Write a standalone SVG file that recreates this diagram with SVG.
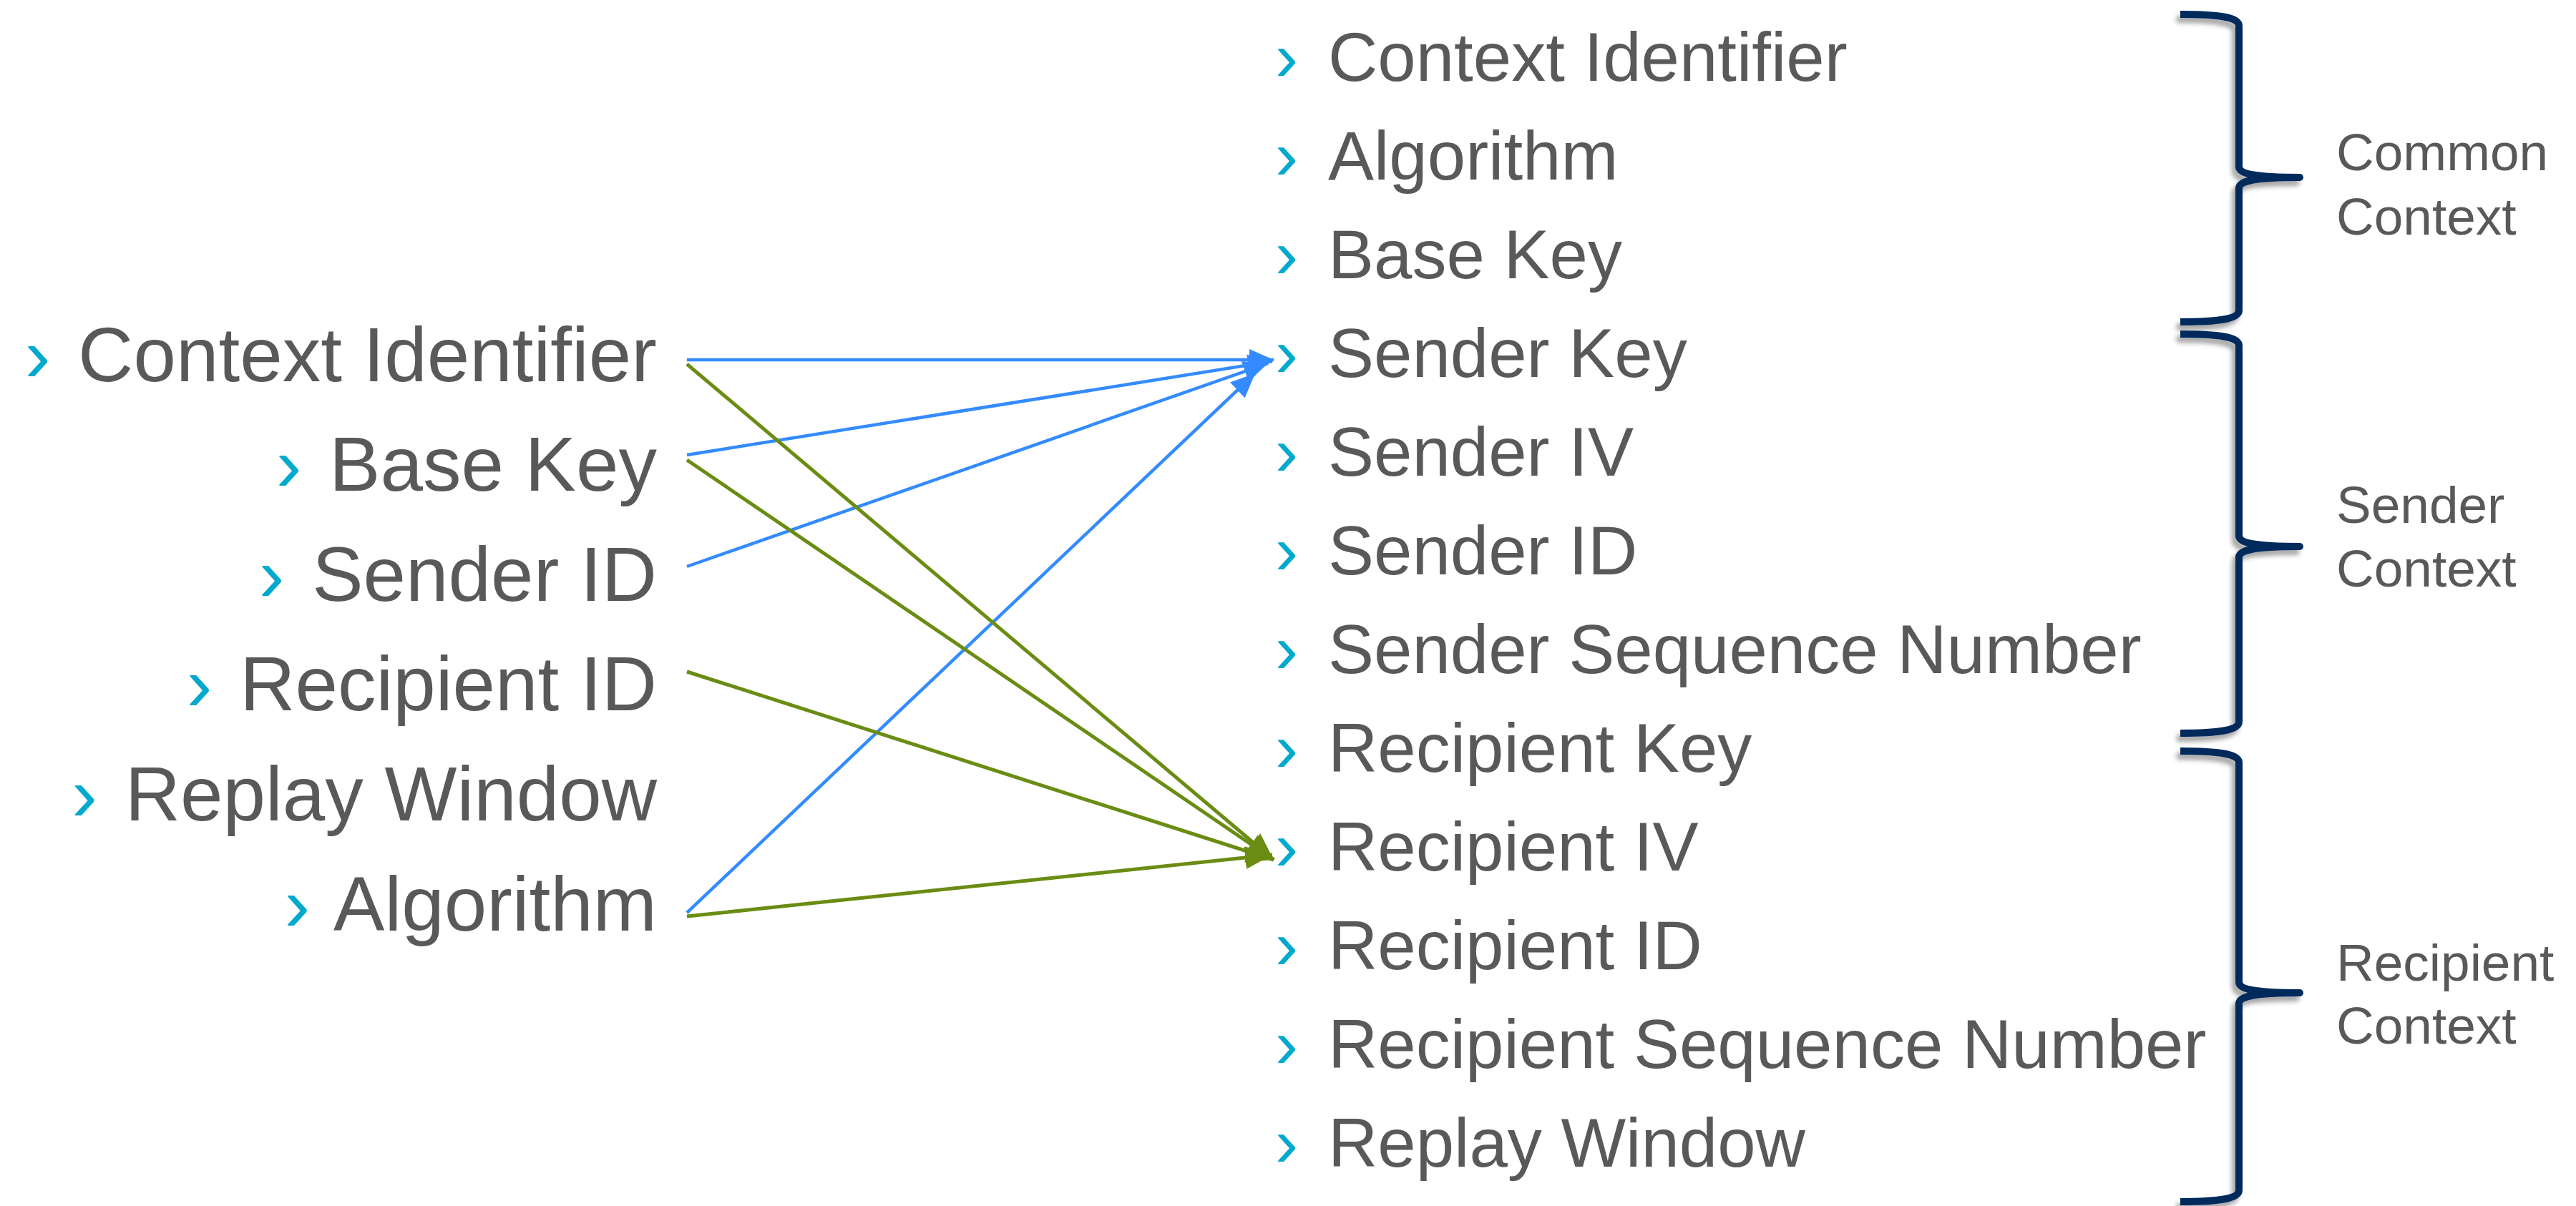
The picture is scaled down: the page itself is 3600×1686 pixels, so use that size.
<svg xmlns="http://www.w3.org/2000/svg" width="3600" height="1686" viewBox="0 0 3600 1686">
<style>
.lbl{font-family:"Liberation Sans",Arial,sans-serif;fill:#58595b}
.l{font-size:107px}
.r{font-size:96px}
.g{font-size:73px}
.chev{fill:#00a9ce}
.blue{stroke:#338bff;stroke-width:4.5;fill:none}
.green{stroke:#6a8c13;stroke-width:5;fill:none}
.brace{stroke:#002a5c;stroke-width:10;fill:none;stroke-linejoin:round;stroke-linecap:butt}
</style>
<defs>
<marker id="ab" markerUnits="userSpaceOnUse" markerWidth="34" markerHeight="30" refX="34" refY="15" orient="auto">
<path d="M0,0 L34,15 L0,30 z" fill="#338bff"/>
</marker>
<marker id="ag" markerUnits="userSpaceOnUse" markerWidth="38" markerHeight="32" refX="38" refY="16" orient="auto">
<path d="M0,0 L38,16 L0,32 z" fill="#6a8c13"/>
</marker>
<filter id="sh" x="-20%" y="-5%" width="140%" height="110%">
<feDropShadow dx="-5" dy="7" stdDeviation="3" flood-color="#000" flood-opacity="0.35"/>
</filter>
</defs>
<rect width="3600" height="1686" fill="#ffffff"/>

<g id="left-items">
<g id="l-context-identifier"><text class="lbl l" x="918" y="533" text-anchor="end"><tspan class="chev">›</tspan><tspan dx="9"> Context Identifier</tspan></text></g>
<g id="l-base-key"><text class="lbl l" x="918" y="686" text-anchor="end"><tspan class="chev">›</tspan><tspan dx="9"> Base Key</tspan></text></g>
<g id="l-sender-id"><text class="lbl l" x="918" y="840" text-anchor="end"><tspan class="chev">›</tspan><tspan dx="9"> Sender ID</tspan></text></g>
<g id="l-recipient-id"><text class="lbl l" x="918" y="993" text-anchor="end"><tspan class="chev">›</tspan><tspan dx="9"> Recipient ID</tspan></text></g>
<g id="l-replay-window"><text class="lbl l" x="918" y="1147" text-anchor="end"><tspan class="chev">›</tspan><tspan dx="9"> Replay Window</tspan></text></g>
<g id="l-algorithm"><text class="lbl l" x="918" y="1301" text-anchor="end"><tspan class="chev">›</tspan><tspan dx="9"> Algorithm</tspan></text></g>
</g>

<g id="right-items">
<g id="r-context-identifier"><text class="lbl r chev" x="1782" y="113">›</text><text class="lbl r" x="1856" y="113">Context Identifier</text></g>
<g id="r-algorithm"><text class="lbl r chev" x="1782" y="251">›</text><text class="lbl r" x="1856" y="251">Algorithm</text></g>
<g id="r-base-key"><text class="lbl r chev" x="1782" y="389">›</text><text class="lbl r" x="1856" y="389">Base Key</text></g>
<g id="r-sender-key"><text class="lbl r chev" x="1782" y="527">›</text><text class="lbl r" x="1856" y="527">Sender Key</text></g>
<g id="r-sender-iv"><text class="lbl r chev" x="1782" y="665">›</text><text class="lbl r" x="1856" y="665">Sender IV</text></g>
<g id="r-sender-id"><text class="lbl r chev" x="1782" y="803">›</text><text class="lbl r" x="1856" y="803">Sender ID</text></g>
<g id="r-sender-seq"><text class="lbl r chev" x="1782" y="941">›</text><text class="lbl r" x="1856" y="941">Sender Sequence Number</text></g>
<g id="r-recipient-key"><text class="lbl r chev" x="1782" y="1079">›</text><text class="lbl r" x="1856" y="1079">Recipient Key</text></g>
<g id="r-recipient-iv"><text class="lbl r chev" x="1782" y="1217">›</text><text class="lbl r" x="1856" y="1217">Recipient IV</text></g>
<g id="r-recipient-id"><text class="lbl r chev" x="1782" y="1355">›</text><text class="lbl r" x="1856" y="1355">Recipient ID</text></g>
<g id="r-recipient-seq"><text class="lbl r chev" x="1782" y="1493">›</text><text class="lbl r" x="1856" y="1493">Recipient Sequence Number</text></g>
<g id="r-replay-window"><text class="lbl r chev" x="1782" y="1631">›</text><text class="lbl r" x="1856" y="1631">Replay Window</text></g>
</g>

<g id="braces" filter="url(#sh)">
<path id="brace-common" class="brace" d="M3047,20 C3100,20 3129,24 3129,36 L3129,233 C3129,243 3150,248 3214,248 C3150,248 3129,253 3129,263 L3129,434 C3129,446 3100,450 3047,450"/>
<path id="brace-sender" class="brace" d="M3047,467 C3100,467 3129,471 3129,483 L3129,749 C3129,759 3150,764 3214,764 C3150,764 3129,769 3129,779 L3129,1009 C3129,1021 3100,1025 3047,1025"/>
<path id="brace-recipient" class="brace" d="M3047,1050 C3100,1050 3129,1054 3129,1066 L3129,1373 C3129,1383 3150,1388 3214,1388 C3150,1388 3129,1393 3129,1403 L3129,1664 C3129,1676 3100,1680 3047,1680"/>
</g>

<g id="group-labels">
<g id="common-context"><text class="lbl g" x="3265" y="238">Common</text><text class="lbl g" x="3265" y="328">Context</text></g>
<g id="sender-context"><text class="lbl g" x="3265" y="731">Sender</text><text class="lbl g" x="3265" y="820">Context</text></g>
<g id="recipient-context"><text class="lbl g" x="3265" y="1371">Recipient</text><text class="lbl g" x="3265" y="1459">Context</text></g>
</g>

<g id="connectors">
<line class="blue" x1="960" y1="503" x2="1780" y2="503" marker-end="url(#ab)"/>
<line class="blue" x1="960" y1="636" x2="1778" y2="505" marker-end="url(#ab)"/>
<line class="blue" x1="960" y1="792" x2="1772" y2="508" marker-end="url(#ab)"/>
<line class="blue" x1="960" y1="1276" x2="1754" y2="522" marker-end="url(#ab)"/>
<line class="green" x1="960" y1="509" x2="1780" y2="1202" marker-end="url(#ag)"/>
<line class="green" x1="960" y1="643" x2="1780" y2="1202" marker-end="url(#ag)"/>
<line class="green" x1="960" y1="939" x2="1780" y2="1202" marker-end="url(#ag)"/>
<line class="green" x1="960" y1="1281" x2="1778" y2="1195" marker-end="url(#ag)"/>
</g>
</svg>
